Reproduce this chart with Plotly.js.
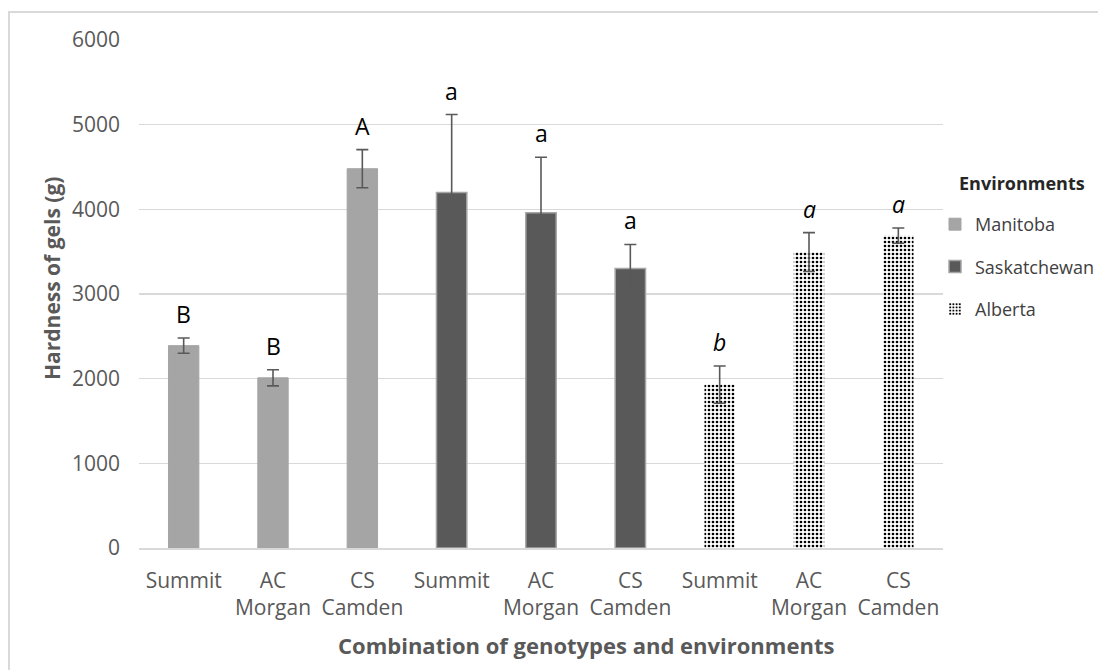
<!DOCTYPE html>
<html>
<head>
<meta charset="utf-8">
<script src="https://cdn.plot.ly/plotly-3.0.1.min.js"></script>
<style>
  html, body { margin: 0; padding: 0; background: #ffffff; overflow: hidden; }
  #chart { width: 1098px; height: 670px; }
  #frame { position: absolute; left: 8px; top: 11px; width: 1100px; height: 680px;
           border: 2px solid #d9d9d9; pointer-events: none; box-sizing: border-box; }
</style>
</head>
<body>
<div id="chart"></div>
<div id="frame"></div>
<script>
// ---- data ----
const environments = ["Manitoba", "Saskatchewan", "Alberta"];
const genotypeLabels = ["Summit", "AC<br>Morgan", "CS<br>Camden",
                        "Summit", "AC<br>Morgan", "CS<br>Camden",
                        "Summit", "AC<br>Morgan", "CS<br>Camden"];
const manitobaValues = [2390, 2010, 4480];
const manitobaErrors = [90, 95, 225];
const manitobaLetters = ["B", "B", "A"];
const saskatchewanValues = [4200, 3960, 3300];
const saskatchewanErrors = [920, 655, 285];
const saskatchewanLetters = ["a", "a", "a"];
const albertaValues = [1930, 3495, 3690];
const albertaErrors = [220, 230, 90];
const albertaLetters = ["<i>b</i>", "<i>a</i>", "<i>a</i>"];
const yTicks = [0, 1000, 2000, 3000, 4000, 5000, 6000];

// ---- build ----
const FONT = "'Open Sans', 'Noto Sans', sans-serif";
const groups = [
  {name: environments[0], vals: manitobaValues, errs: manitobaErrors, letters: manitobaLetters},
  {name: environments[1], vals: saskatchewanValues, errs: saskatchewanErrors, letters: saskatchewanLetters},
  {name: environments[2], vals: albertaValues, errs: albertaErrors, letters: albertaLetters}
];
const markers = [
  {color: "#a5a5a5", line: {color: "#a5a5a5", width: 1}},
  {color: "#595959", line: {color: "#a5a5a5", width: 1.5}},
  {color: "#ffffff", line: {color: "rgba(0,0,0,0)", width: 0},
   pattern: {shape: ".", size: 4, solidity: 0.35, fgcolor: "#000000", bgcolor: "#ffffff", fillmode: "replace"}}
];

const traces = [];
const annotations = [];
groups.forEach((g, gi) => {
  const xs = g.vals.map((_, i) => gi * 3 + i);
  traces.push({
    type: "bar",
    name: g.name,
    legendgroup: g.name,
    x: xs,
    y: g.vals,
    width: 0.34,
    marker: markers[gi],
    error_y: {type: "data", array: g.errs, visible: true, color: "#595959", thickness: 1.6, width: 6},
    hoverinfo: "x+y"
  });
  g.letters.forEach((t, i) => {
    annotations.push({
      x: xs[i], y: g.vals[i] + g.errs[i], xref: "x", yref: "y",
      text: t, showarrow: false, yanchor: "bottom", yshift: 6,
      font: {family: FONT, size: 23, color: "#000000"}
    });
  });
});

annotations.push({
  xref: "paper", yref: "paper", x: (586 - 139) / 804, y: -(645 - 548) / 508,
  text: "<b>Combination of genotypes and environments</b>", showarrow: false,
  xanchor: "center", yanchor: "middle",
  font: {family: FONT, size: 22, color: "#595959"}
});
annotations.push({
  xref: "paper", yref: "paper", x: -(139 - 52) / 804, y: (548 - 279) / 508,
  text: "<b>Hardness of gels (g)</b>", showarrow: false, textangle: -90,
  xanchor: "center", yanchor: "middle",
  font: {family: FONT, size: 21, color: "#595959"}
});
annotations.push({
  xref: "paper", yref: "paper", x: (957 - 139) / 804, y: (548 - 183) / 508,
  text: "<b>Environments</b>", showarrow: false,
  xanchor: "left", yanchor: "middle",
  font: {family: FONT, size: 18, color: "#262626"}
});

const layout = {
  width: 1098, height: 670,
  margin: {l: 139, r: 155, t: 40, b: 122, autoexpand: false},
  paper_bgcolor: "#ffffff", plot_bgcolor: "#ffffff",
  barmode: "overlay",
  font: {family: FONT, size: 21, color: "#595959"},
  xaxis: {
    range: [-0.5, 8.5],
    tickmode: "array",
    tickvals: genotypeLabels.map((_, i) => i),
    ticktext: genotypeLabels,
    tickfont: {family: FONT, size: 21, color: "#595959"},
    showgrid: false, zeroline: false,
    showline: true, linecolor: "#d9d9d9", linewidth: 1.5,
    ticks: "", ticklabelstandoff: 13
  },
  yaxis: {
    range: [0, 6000],
    tickmode: "array",
    tickvals: yTicks,
    ticktext: yTicks.map(String),
    tickfont: {family: FONT, size: 21, color: "#595959"},
    showgrid: true, gridcolor: "#d9d9d9", gridwidth: 1.5,
    zeroline: false, showline: false, ticks: "", ticklabelstandoff: 18
  },
  showlegend: true,
  legend: {
    x: (935 - 139) / 804, xanchor: "left", y: 1 - (206 - 40) / 508, yanchor: "top",
    traceorder: "grouped", tracegroupgap: 16,
    font: {family: FONT, size: 18, color: "#404040"},
    bgcolor: "rgba(0,0,0,0)", itemwidth: 30
  },
  annotations: annotations
};

Plotly.newPlot("chart", traces, layout, {displayModeBar: false, staticPlot: true});
</script>
</body>
</html>
